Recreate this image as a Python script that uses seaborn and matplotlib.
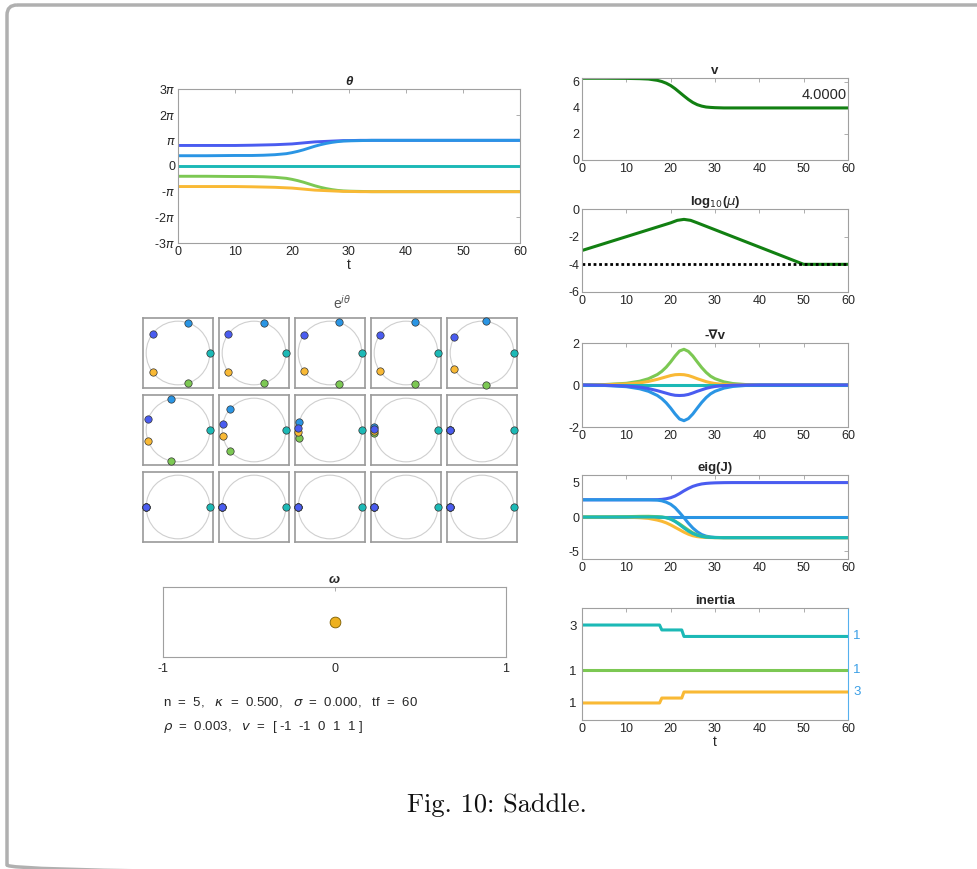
import numpy as np
import matplotlib
matplotlib.use("Agg")
import matplotlib.pyplot as plt
from matplotlib.patches import FancyBboxPatch, Circle
import seaborn as sns

sns.set_style("white")
plt.rcParams['font.family'] = ['Liberation Sans', 'DejaVu Sans']
plt.rcParams['axes.unicode_minus'] = False

# ---- data ----
T = [0, 5, 10, 13, 15, 17, 18, 19, 20, 21, 22, 23, 24, 25, 26, 27, 28, 29, 30, 32, 34, 37, 40, 45, 50, 60]

# theta, in units of pi
theta_dark = [0.80, 0.80, 0.80, 0.81, 0.82, 0.83, 0.84, 0.85, 0.86, 0.88, 0.90, 0.92, 0.94, 0.95, 0.96, 0.97, 0.98, 0.99, 0.99, 1.0, 1.0, 1.0, 1.0, 1.0, 1.0, 1.0]
theta_light = [0.40, 0.40, 0.41, 0.41, 0.42, 0.44, 0.46, 0.48, 0.52, 0.57, 0.63, 0.70, 0.77, 0.83, 0.88, 0.92, 0.95, 0.97, 0.98, 0.99, 1.0, 1.0, 1.0, 1.0, 1.0, 1.0]
theta_teal = [0.0] * 26
theta_green = [-0.40, -0.40, -0.41, -0.41, -0.42, -0.44, -0.46, -0.48, -0.52, -0.57, -0.63, -0.70, -0.77, -0.83, -0.88, -0.92, -0.95, -0.97, -0.98, -0.99, -1.0, -1.0, -1.0, -1.0, -1.0, -1.0]
theta_orange = [-0.80, -0.80, -0.80, -0.81, -0.82, -0.83, -0.84, -0.85, -0.86, -0.88, -0.90, -0.92, -0.94, -0.95, -0.96, -0.97, -0.98, -0.99, -0.99, -1.0, -1.0, -1.0, -1.0, -1.0, -1.0, -1.0]

# snapshot angles (degrees) for the 15 e^{i theta} panels
snap_dark = [143, 144, 145, 146, 150, 159, 169, 176, 178, 180, 180, 180, 180, 180, 180]
snap_light = [72, 72, 73.5, 74, 83, 102, 138, 166, 174, 180, 180, 180, 180, 180, 180]
snap_teal = [0] * 15
snap_green = [-72, -72, -73.5, -74, -83, -102, -138, -166, -175, -180, -180, -180, -180, -180, -180]
snap_orange = [-143, -144, -145, -146, -150, -159, -170, -177, -178, -180, -180, -180, -180, -180, -180]

v_vals = [6.28, 6.28, 6.27, 6.25, 6.22, 6.12, 6.03, 5.90, 5.72, 5.48, 5.20, 4.92, 4.65, 4.42, 4.25, 4.14, 4.07, 4.04, 4.02, 4.0, 4.0, 4.0, 4.0, 4.0, 4.0, 4.0]

mu_t = [0, 20, 21.5, 23, 24.5, 26, 50, 60]
mu_vals = [-3.0, -1.0, -0.82, -0.75, -0.82, -1.0, -4.0, -4.0]
mu_floor = -4.0

grad_green = [0.0, 0.02, 0.08, 0.18, 0.30, 0.50, 0.65, 0.85, 1.10, 1.38, 1.62, 1.70, 1.60, 1.38, 1.10, 0.83, 0.60, 0.42, 0.30, 0.15, 0.07, 0.02, 0.0, 0.0, 0.0, 0.0]
grad_orange = [0.0, 0.01, 0.05, 0.10, 0.17, 0.27, 0.33, 0.39, 0.45, 0.49, 0.50, 0.49, 0.45, 0.38, 0.30, 0.23, 0.16, 0.11, 0.07, 0.03, 0.01, 0.0, 0.0, 0.0, 0.0, 0.0]
grad_teal = [0.0] * 26
grad_dark = [-0.0, -0.01, -0.05, -0.10, -0.17, -0.27, -0.33, -0.39, -0.45, -0.49, -0.50, -0.49, -0.45, -0.38, -0.30, -0.23, -0.16, -0.11, -0.07, -0.03, -0.01, 0.0, 0.0, 0.0, 0.0, 0.0]
grad_light = [-0.0, -0.02, -0.08, -0.18, -0.30, -0.50, -0.65, -0.85, -1.10, -1.38, -1.62, -1.70, -1.60, -1.38, -1.10, -0.83, -0.60, -0.42, -0.30, -0.15, -0.07, -0.02, 0.0, 0.0, 0.0, 0.0]

eig_zero = [0.0] * 26
eig_dark = [2.5, 2.5, 2.5, 2.5, 2.5, 2.52, 2.56, 2.65, 2.80, 3.05, 3.40, 3.80, 4.15, 4.45, 4.65, 4.80, 4.88, 4.93, 4.96, 4.99, 5.0, 5.0, 5.0, 5.0, 5.0, 5.0]
eig_light = [2.5, 2.5, 2.5, 2.5, 2.5, 2.45, 2.35, 2.15, 1.85, 1.35, 0.65, -0.10, -0.90, -1.60, -2.15, -2.55, -2.78, -2.90, -2.96, -3.0, -3.0, -3.0, -3.0, -3.0, -3.0, -3.0]
eig_orange = [0, 0, -0.02, -0.10, -0.20, -0.45, -0.62, -0.85, -1.15, -1.50, -1.85, -2.20, -2.50, -2.72, -2.85, -2.93, -2.97, -2.99, -3.0, -3.0, -3.0, -3.0, -3.0, -3.0, -3.0, -3.0]
eig_green = [0, 0.01, 0.05, 0.09, 0.10, 0.05, 0.0, -0.10, -0.30, -0.60, -1.00, -1.45, -1.90, -2.30, -2.60, -2.80, -2.90, -2.96, -2.98, -3.0, -3.0, -3.0, -3.0, -3.0, -3.0, -3.0]
eig_teal = [0, 0, 0, 0, 0, 0, -0.02, -0.10, -0.30, -0.65, -1.10, -1.60, -2.05, -2.40, -2.65, -2.82, -2.92, -2.97, -2.99, -3.0, -3.0, -3.0, -3.0, -3.0, -3.0, -3.0]

# inertia step lines (vertical position only, labels are counts)
in_t = [0, 17.5, 18, 22.5, 23, 60]
in_teal = [8.48, 8.48, 8.04, 8.04, 7.46, 7.46]
in_green = [4.46, 4.46, 4.46, 4.46, 4.46, 4.46]
in_orange = [1.52, 1.52, 1.96, 1.96, 2.50, 2.50]
in_left_pos = [1.52, 4.46, 8.48]
in_left_lab = ["1", "1", "3"]
in_right_pos = [7.46, 4.46, 2.50]
in_right_lab = ["1", "1", "3"]

omega_x = [0.0]
omega_y = [0.0]

DARK, LIGHT, TEAL, GREEN, ORANGE = "#4a5cf0", "#2a95e4", "#1cb9b6", "#7cc853", "#f9b935"
GRAY = "#a0a0a0"
TXT = "#262626"

W, H = 977, 869
fig = plt.figure(figsize=(W / 100, H / 100), dpi=100)


def px_axes(x0, y0, x1, y1):
    return fig.add_axes([x0 / W, 1 - y1 / H, (x1 - x0) / W, (y1 - y0) / H])


def style(ax, right=True):
    for s in ax.spines.values():
        s.set_color(GRAY)
        s.set_linewidth(0.8)
    ax.tick_params(direction="in", length=3, width=0.6, colors=GRAY, labelcolor=TXT,
                   labelsize=9, top=True, right=right, pad=2)


def line(ax, x, y, c, lw=2.2, **kw):
    sns.lineplot(x=x, y=y, ax=ax, color=c, lw=lw, **kw)


# background frame
bg = fig.add_axes([0, 0, 1, 1], zorder=-10)
bg.set_xlim(0, W)
bg.set_ylim(H, 0)
bg.axis("off")
bg.add_patch(FancyBboxPatch((7, 5), 1000, 870, boxstyle="round,pad=0,rounding_size=10",
                            fc="none", ec="#b0b0b0", lw=2.5))

# ---- theta ----
ax = px_axes(178, 89, 520, 243)
for vals, c in [(theta_dark, DARK), (theta_light, LIGHT), (theta_teal, TEAL),
                (theta_green, GREEN), (theta_orange, ORANGE)]:
    line(ax, T, np.array(vals) * np.pi, c, lw=2.1)
style(ax)
ax.set_xlim(0, 60)
ax.set_ylim(-3 * np.pi, 3 * np.pi)
ax.set_xticks([0, 10, 20, 30, 40, 50, 60])
ax.set_yticks(np.arange(-3, 4) * np.pi)
ax.set_yticklabels([r"-3$\pi$", r"-2$\pi$", r"-$\pi$", "0", r"$\pi$", r"2$\pi$", r"3$\pi$"])
ax.set_title("θ", fontweight="bold", fontstyle="italic", fontsize=9.5, pad=3)
ax.set_xlabel("t", fontsize=10, labelpad=0, color=TXT)
ax.set_ylabel("")

# ---- e^{i theta} snapshots ----
bg.text(342, 303, r"e$^{i\theta}$", fontsize=10, color="#555555", ha="center", va="center")
cols = [143, 219, 295, 371, 447]
rows = [318, 395, 472]
snaps = [(snap_green, GREEN), (snap_orange, ORANGE), (snap_light, LIGHT), (snap_dark, DARK), (snap_teal, TEAL)]
for r, y0 in enumerate(rows):
    for c, x0 in enumerate(cols):
        k = r * 5 + c
        a = px_axes(x0, y0, x0 + 70, y0 + 70)
        a.add_patch(Circle((0, 0), 1, fill=False, ec="#cfcfcf", lw=0.8))
        for ang, col in snaps:
            th = np.deg2rad(ang[k])
            sns.scatterplot(x=[np.cos(th)], y=[np.sin(th)], ax=a, color=col, s=28,
                            edgecolor="#333333", linewidth=0.5, clip_on=False, zorder=3)
        a.set_xlim(-1.1, 1.1)
        a.set_ylim(-1.1, 1.1)
        a.set_xticks([])
        a.set_yticks([])
        for s in a.spines.values():
            s.set_color("#9a9a9a")
            s.set_linewidth(1.2)

# ---- omega ----
ax = px_axes(163, 587, 506, 657)
sns.scatterplot(x=omega_x, y=omega_y, ax=ax, color="#edb120", s=60, edgecolor="#7a5c00", linewidth=0.6)
style(ax, right=False)
ax.set_xlim(-1, 1)
ax.set_ylim(-1, 1)
ax.set_xticks([-1, 0, 1])
ax.set_yticks([])
ax.tick_params(left=False, pad=4)
ax.set_title("ω", fontweight="bold", fontstyle="italic", fontsize=9.5, pad=3)

bg.text(163, 702, r"n  =  5,   $\kappa$  =  0.500,   $\sigma$  =  0.000,   tf  =  60", fontsize=9.5, color=TXT, va="center")
bg.text(163, 727, r"$\rho$  =  0.003,   $v$  =  [ -1  -1  0  1  1 ]", fontsize=9.5, color=TXT, va="center")

# ---- right column ----
GREEN_DK = "#128012"
ticks60 = [0, 10, 20, 30, 40, 50, 60]

ax = px_axes(582, 78, 848, 160)
line(ax, T, v_vals, GREEN_DK)
style(ax)
ax.set_xlim(0, 60)
ax.set_ylim(0, 6.3)
ax.set_xticks(ticks60)
ax.set_yticks([0, 2, 4, 6])
ax.text(59.8, 5.0, "4.0000", ha="right", va="center", fontsize=10.5, color=TXT)
ax.set_title("v", fontweight="bold", fontsize=9.5, pad=3)

ax = px_axes(582, 209, 848, 292)
line(ax, mu_t, mu_vals, GREEN_DK)
line(ax, [0, 60], [mu_floor, mu_floor], "black", lw=2, linestyle=(0, (1, 1)))
style(ax)
ax.set_xlim(0, 60)
ax.set_ylim(-6, 0)
ax.set_xticks(ticks60)
ax.set_yticks([-6, -4, -2, 0])
ax.set_title(r"log$_{10}$($\mu$)", fontweight="bold", fontsize=9.5, pad=3)

ax = px_axes(582, 343, 848, 427)
for vals, c in [(grad_green, GREEN), (grad_orange, ORANGE), (grad_teal, TEAL),
                (grad_light, LIGHT), (grad_dark, DARK)]:
    line(ax, T, vals, c)
style(ax)
ax.set_xlim(0, 60)
ax.set_ylim(-2, 2)
ax.set_xticks(ticks60)
ax.set_yticks([-2, 0, 2])
ax.set_title("-∇v", fontweight="bold", fontsize=9.5, pad=3)

ax = px_axes(582, 475, 848, 559)
for vals, c in [(eig_zero, LIGHT), (eig_dark, DARK), (eig_light, LIGHT),
                (eig_orange, ORANGE), (eig_green, GREEN), (eig_teal, TEAL)]:
    line(ax, T, vals, c)
style(ax)
ax.set_xlim(0, 60)
ax.set_ylim(-6.1, 6.1)
ax.set_xticks(ticks60)
ax.set_yticks([-5, 0, 5])
ax.set_title("eig(J)", fontweight="bold", fontsize=9.5, pad=3)

ax = px_axes(582, 608, 848, 720)
for vals, c in [(in_teal, TEAL), (in_green, GREEN), (in_orange, ORANGE)]:
    line(ax, in_t, vals, c)
style(ax, right=False)
ax.spines["right"].set_color("#55b0ee")
ax.set_xlim(0, 60)
ax.set_ylim(0, 10)
ax.set_xticks(ticks60)
ax.set_yticks(in_left_pos)
ax.set_yticklabels(in_left_lab)
ax.tick_params(axis="y", labelsize=9.5, pad=4)
for p, lab in zip(in_right_pos, in_right_lab):
    ax.text(1.02, p, lab, transform=ax.get_yaxis_transform(), color="#3a9fe6",
            fontsize=9.5, va="center", ha="left")
ax.set_title("inertia", fontweight="bold", fontsize=9.5, pad=3)
ax.set_xlabel("t", fontsize=10, labelpad=0, color=TXT)

# caption
bg.text(497, 812, "Fig. 10: Saddle.", family="cmr10", fontsize=19, ha="center", va="baseline", color="#111111")

fig.savefig("out.png", dpi=100, facecolor="white")
